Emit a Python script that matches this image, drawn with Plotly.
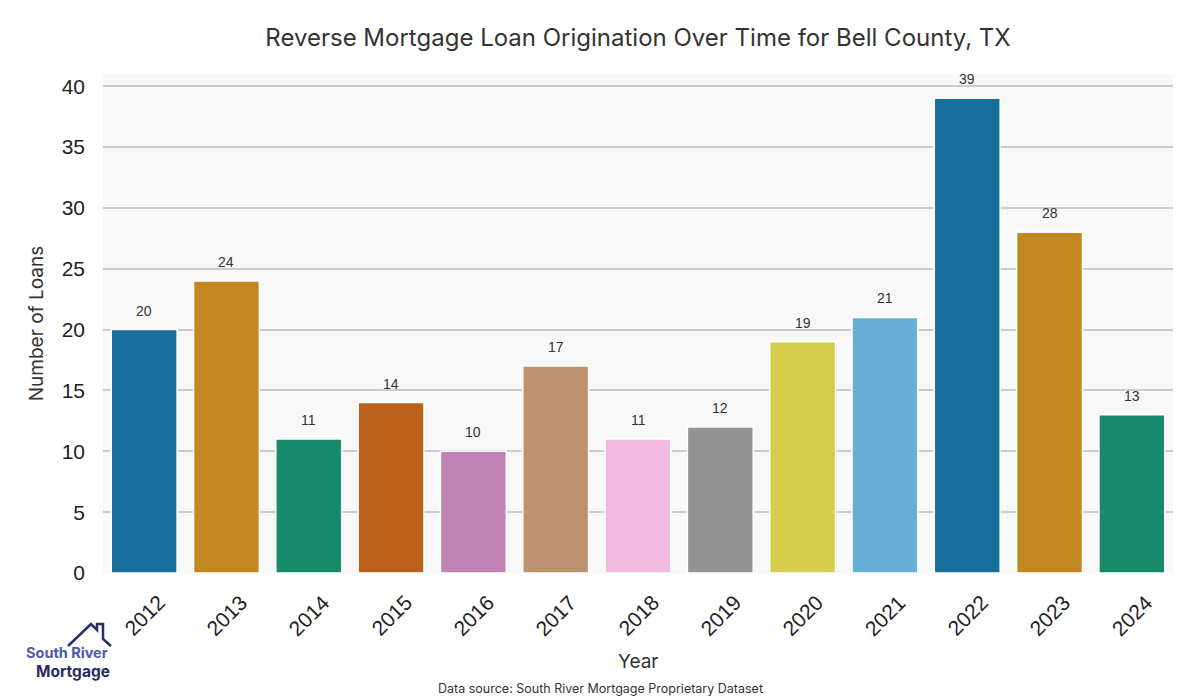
import plotly.graph_objects as go

years = ["2012", "2013", "2014", "2015", "2016", "2017", "2018", "2019", "2020", "2021", "2022", "2023", "2024"]
loans = [20, 24, 11, 14, 10, 17, 11, 12, 19, 21, 39, 28, 13]
colors = ["#176d9c", "#c38820", "#168a6a", "#ba611b", "#c183b5", "#bd926e", "#f1b8e0",
          "#949494", "#d5cd4a", "#68afd7", "#176d9c", "#c38820", "#168a6a"]
y_ticks = [0, 5, 10, 15, 20, 25, 30, 35, 40]

L, R, T, B = 103, 27, 74, 127
W, H = 1200, 700
PW, PH = W - L - R, H - T - B

def px(x):
    return (x - L) / PW

def py(y):
    return (H - B - y) / PH

fig = go.Figure()
fig.add_trace(go.Bar(
    x=years, y=loans,
    marker=dict(color=colors, line=dict(color="white", width=1.5)),
    width=0.8, showlegend=False, hoverinfo="x+y",
))

for i, v in enumerate(loans):
    fig.add_annotation(x=i, y=v, text=str(v), showarrow=False, yshift=19,
                       font=dict(family="Liberation Sans, Arial", size=14, color="#333333"))

# rotated category labels, centred under each bar
for i, yr in enumerate(years):
    fig.add_annotation(x=i, yref="paper", y=py(615), text=yr, showarrow=False, textangle=-45,
                       xanchor="center", yanchor="middle",
                       font=dict(family="Liberation Sans, Arial", size=21, color="#222222"))

def paper_text(x, y, text, size, color, family="Inter, Lato"):
    fig.add_annotation(xref="paper", yref="paper", x=px(x), y=py(y), text=text, showarrow=False,
                       xanchor="center", yanchor="middle", borderpad=0,
                       font=dict(family=family, size=size, color=color))

paper_text(638, 661, "Year", 19, "#333333")
paper_text(600, 688, "Data source: South River Mortgage Proprietary Dataset", 12.5, "#333333")

# logo
fig.add_shape(type="path", xref="paper", yref="paper",
              path=f"M {px(68)} {py(646)} L {px(91)} {py(624)} L {px(97)} {py(630)} L {px(97)} {py(624)} "
                   f"L {px(103)} {py(624)} L {px(103)} {py(639)} L {px(111)} {py(646)}",
              line=dict(color="#262f63", width=2.5))
paper_text(67, 652, "<b>South River</b>", 14.5, "#4a5bab")
paper_text(73, 671, "<b>Mortgage</b>", 15.5, "#262d5e")

fig.update_layout(
    width=W, height=H,
    margin=dict(l=L, r=R, t=T, b=B),
    paper_bgcolor="white", plot_bgcolor="#f8f8f8",
    title=dict(text="Reverse Mortgage Loan Origination Over Time for Bell County, TX",
               x=px(638), xref="paper", xanchor="center", y=1 - 38 / H, yref="container", yanchor="middle",
               font=dict(family="Inter, Lato", size=24, color="#333333")),
    bargap=0.2,
    xaxis=dict(type="category", automargin=False, range=[-0.5, 12.5], showticklabels=False,
               showgrid=False, ticks="", showline=False),
    yaxis=dict(automargin=False,
               title=dict(text="Number of Loans", font=dict(family="Inter, Lato", size=19, color="#333333"), standoff=12),
               range=[0, 41], tickvals=y_ticks, tickfont=dict(family="Liberation Sans, Arial", size=21, color="#222222"),
               showgrid=True, gridcolor="#cccccc", gridwidth=1.5, zeroline=False, ticks="", ticklabelstandoff=17),
)

fig.write_html("out.html", config={"displayModeBar": False},
               post_script="document.body.style.margin='0';")
